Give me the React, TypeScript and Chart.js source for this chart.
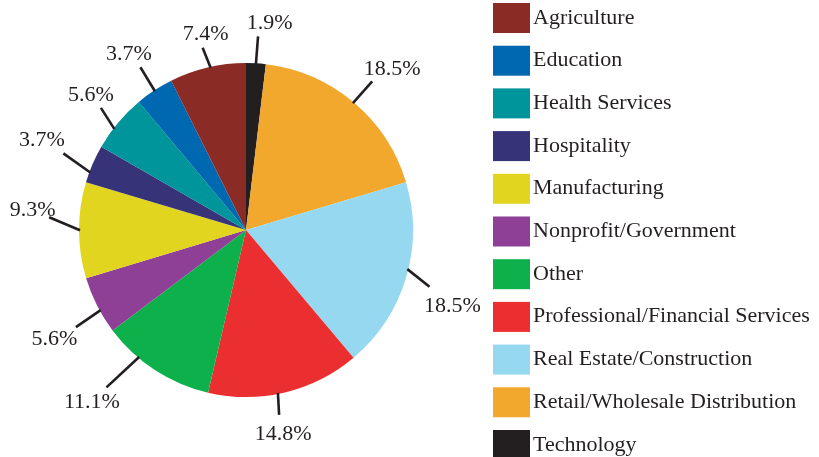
import React, { useEffect, useRef } from 'react';
import { Chart, registerables } from 'chart.js';

Chart.register(...registerables);

// Legend order (alphabetical); the pie runs clockwise from 12 o'clock in reverse of this order
const categories = [
  'Agriculture',
  'Education',
  'Health Services',
  'Hospitality',
  'Manufacturing',
  'Nonprofit/Government',
  'Other',
  'Professional/Financial Services',
  'Real Estate/Construction',
  'Retail/Wholesale Distribution',
  'Technology',
];

const shares = [7.4, 3.7, 5.6, 3.7, 9.3, 5.6, 11.1, 14.8, 18.5, 18.5, 1.9];

const sliceColors = [
  '#8B2B26',
  '#0067B1',
  '#00959B',
  '#363379',
  '#E1D51F',
  '#8E3F96',
  '#0DB04B',
  '#EB2E2F',
  '#96D8EF',
  '#F1A82C',
  '#231F20',
];

// Leader-line layout (degrees / px), same order as categories
const leaderStartShift = [1, 0, -2.5, -3, 0, -2, 7, 2.4, -3, 0, 0];
const leaderTilt = [-9.5, 2, 20, 15, 23, -5.6, 7, 8, 25, 1.5, 1];
const leaderLength = [21.5, 28, 25, 33, 33.5, 30, 44.6, 22, 28.4, 29, 28];
const labelShiftX = [3, -11.5, -10, -21.5, -16.5, -21.5, -14.5, 4, 23, 20, 11.5];
const labelShiftY = [-15, -14.5, -14, -14.5, -8.5, 10, 13, 18, 17.5, -14, -14.5];

const FONT = '22px "Liberation Serif", "Times New Roman", serif';
const INK = '#231F20';

export default function App() {
  const ref = useRef<HTMLCanvasElement>(null);

  useEffect(() => {
    document.body.style.margin = '0';
    const n = categories.length;
    const order = categories.map((_, i) => n - 1 - i);

    const annot = {
      id: 'annot',
      afterDraw(chart: any) {
        const ctx = chart.ctx as CanvasRenderingContext2D;
        const meta = chart.getDatasetMeta(0);
        ctx.save();
        // leader lines and percentage labels
        meta.data.forEach((arc: any, k: number) => {
          const ci = order[k];
          const { x, y, startAngle, endAngle, outerRadius } = arc.getProps(
            ['x', 'y', 'startAngle', 'endAngle', 'outerRadius'],
            true
          );
          const mid = (startAngle + endAngle) / 2 + (leaderStartShift[ci] * Math.PI) / 180;
          const sx = x + (outerRadius - 1) * Math.cos(mid);
          const sy = y + (outerRadius - 1) * Math.sin(mid);
          const dir = mid + (leaderTilt[ci] * Math.PI) / 180;
          const ex = sx + leaderLength[ci] * Math.cos(dir);
          const ey = sy + leaderLength[ci] * Math.sin(dir);
          ctx.strokeStyle = INK;
          ctx.lineWidth = 2.6;
          ctx.lineCap = 'butt';
          ctx.beginPath();
          ctx.moveTo(sx, sy);
          ctx.lineTo(ex, ey);
          ctx.stroke();

          ctx.fillStyle = INK;
          ctx.font = FONT;
          ctx.textAlign = 'center';
          ctx.textBaseline = 'alphabetic';
          const value = chart.data.datasets[0].data[k] as number;
          ctx.fillText(value.toFixed(1) + '%', ex + labelShiftX[ci], ey + labelShiftY[ci] + 7.4);
        });

        // legend
        ctx.textAlign = 'left';
        ctx.textBaseline = 'alphabetic';
        ctx.font = FONT;
        categories.forEach((name, i) => {
          const top = 3 + i * 42.7;
          ctx.fillStyle = sliceColors[i];
          ctx.fillRect(493, top, 37, 30);
          ctx.fillStyle = INK;
          ctx.fillText(name, 533, top + 20.5);
        });
        ctx.restore();
      },
    };

    const chart = new Chart(ref.current as HTMLCanvasElement, {
      type: 'pie',
      data: {
        labels: order.map((i) => categories[i]),
        datasets: [
          {
            data: order.map((i) => shares[i]),
            backgroundColor: order.map((i) => sliceColors[i]),
            borderWidth: 0,
          },
        ],
      },
      options: {
        responsive: false,
        animation: false,
        devicePixelRatio: 1,
        radius: 167,
        layout: { padding: { left: 79, top: 63, right: 406, bottom: 60 } },
        plugins: { legend: { display: false }, tooltip: { enabled: false } },
      } as any,
      plugins: [annot],
    });
    return () => chart.destroy();
  }, []);

  return <canvas ref={ref} width={819} height={457} style={{ display: 'block' }} />;
}
